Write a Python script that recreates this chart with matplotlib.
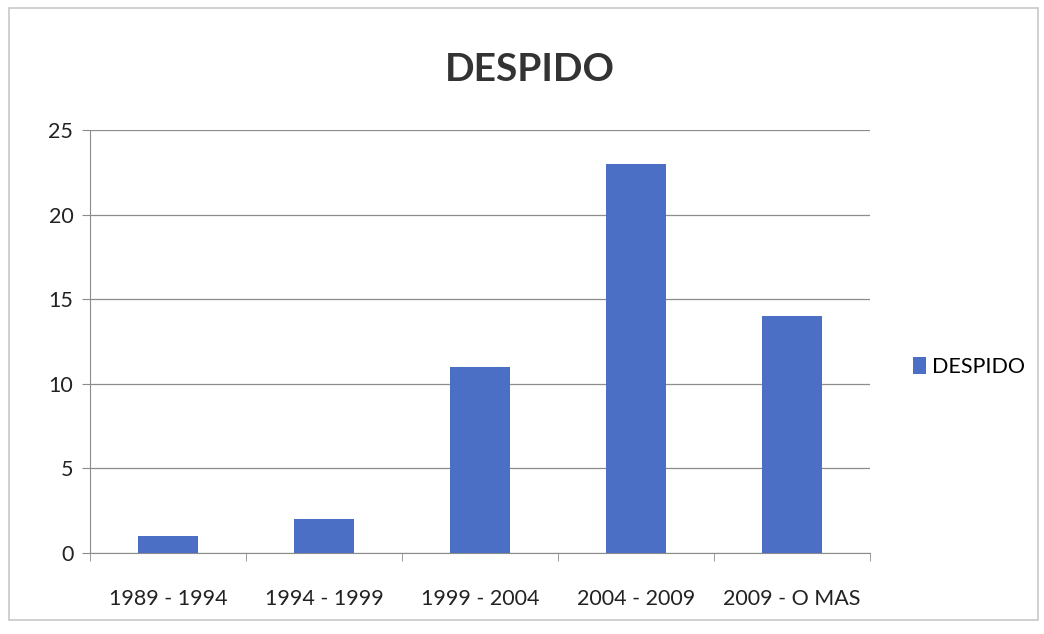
import matplotlib
matplotlib.use('Agg')
import matplotlib.pyplot as plt
from matplotlib.patches import Rectangle

categories = ['1989 - 1994', '1994 - 1999', '1999 - 2004', '2004 - 2009', '2009 - O MAS']
despido = [1, 2, 11, 23, 14]
yticks = [0, 5, 10, 15, 20, 25]

plt.rcParams['font.family'] = ['Lato', 'DejaVu Sans']

fig = plt.figure(figsize=(10.44, 6.34), dpi=100)
ax = fig.add_axes([0.0862, 0.1278, 0.7471, 0.6672])

# outer chart frame
fig.patches.append(Rectangle((0.009, 0.022), 0.985, 0.965, transform=fig.transFigure,
                             fill=False, edgecolor='#c8c8c8', linewidth=1.2))

x = list(range(len(categories)))
ax.bar(x, despido, width=0.39, color='#4a6fc4', label='DESPIDO', zorder=3)

ax.set_xlim(-0.5, len(categories) - 0.5)
ax.set_ylim(0, 25)
ax.set_yticks(yticks)
ax.set_yticklabels([str(v) for v in yticks], fontsize=15.5, color='#222222')
ax.yaxis.grid(True, color='#8c8c8c', linewidth=0.9, zorder=0)

ax.set_xticks(x)
ax.set_xticklabels(categories, fontsize=15.5, color='#222222')
ax.tick_params(axis='x', length=0, pad=26)
ax.set_xticks([i - 0.5 for i in range(len(categories) + 1)], minor=True)
ax.tick_params(axis='x', which='minor', length=6, color='#8c8c8c')
ax.tick_params(axis='y', length=6, color='#8c8c8c', pad=6)

for side in ['top', 'right']:
    ax.spines[side].set_visible(False)
ax.spines['left'].set_color('#8c8c8c')
ax.spines['bottom'].set_color('#8c8c8c')

fig.text(0.508, 0.89, 'DESPIDO', ha='center', va='center', fontsize=28,
         fontweight='bold', color='#333333')

ax.legend(loc='center left', bbox_to_anchor=(1.03, 0.44), frameon=False,
          fontsize=15.5, handlelength=0.6, handleheight=0.8, handletextpad=0.3)

fig.savefig('out.png', dpi=100)
